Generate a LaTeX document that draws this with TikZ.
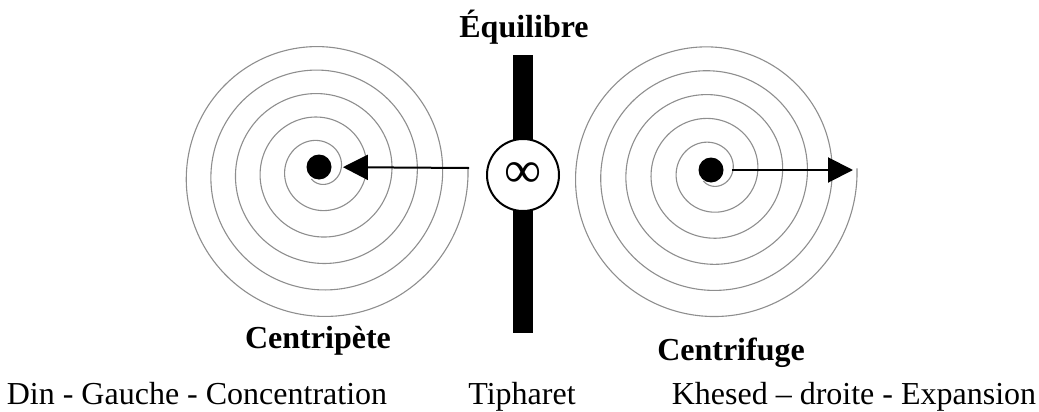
\documentclass[tikz,border=0pt]{standalone}
\usepackage{fontspec}
\setmainfont{Liberation Serif}
\usepackage{tikz}
\usetikzlibrary{arrows.meta,calc,positioning}
\definecolor{trait}{HTML}{8E8E8E}
\definecolor{encre}{HTML}{000000}
\tikzset{
  spirale/.style={draw=trait,line width=0.55pt},
  noyau/.style={circle,fill=encre,inner sep=0pt,minimum size=12.5pt},
  fleche/.style={-{Triangle[length=12.5pt,width=12.5pt]},line width=1pt,draw=encre},
  titre/.style={font=\fontsize{16}{19}\selectfont\bfseries,anchor=base},
  legende/.style={font=\fontsize{16}{19}\selectfont,anchor=base},
  medaillon/.style={circle,draw=encre,fill=white,line width=1pt,inner sep=0pt,minimum size=36pt,font=\fontsize{26}{30}\selectfont},
}
% spirale : centre exterieur (#1,#2), centre interieur (#3,#4)
\newcommand{\spirale}[4]{%
  \draw[spirale] plot[domain=-3:1925,samples=600,smooth]
    ({#1+\x/1925*(#3-#1)+(147-\x/14.4)*cos(\x)},{#2+\x/1925*(#4-#2)+(147-\x/14.4)*sin(\x)});}

\begin{document}
\begin{tikzpicture}[x=0.5pt,y=-0.5pt]
  \useasboundingbox (0,0) rectangle (1039,412);
  % spirales
  \spirale{321}{176}{319}{168}
  \spirale{710}{176}{711}{170}
  % axe central
  \fill[encre] (513,55) rectangle (533,333);
  \node[medaillon] (infini) at (523,175) {∞};
  % noyaux et fleches
  \node[noyau] (noyauG) at (319,167) {};
  \node[noyau] (noyauD) at (711,170) {};
  \coordinate (bordG) at (469,168);
  \coordinate (bordD) at (855,170);
  \draw[fleche,shorten >=5.5pt] (bordG) -- (noyauG);
  \draw[fleche,shorten <=4pt,shorten >=1pt] (noyauD) -- (bordD);
  % textes
  \node[titre] (equilibre) at (524,37) {Équilibre};
  \node[titre] (centripete) at (318,348) {Centripète};
  \node[titre] (centrifuge) at (731,360) {Centrifuge};
  \node[legende] (din) at (197,404) {Din - Gauche - Concentration};
  \node[legende] (tipharet) at (522,404) {Tipharet};
  \node[legende] (khesed) at (854,404) {Khesed – droite - Expansion};
\end{tikzpicture}
\end{document}
